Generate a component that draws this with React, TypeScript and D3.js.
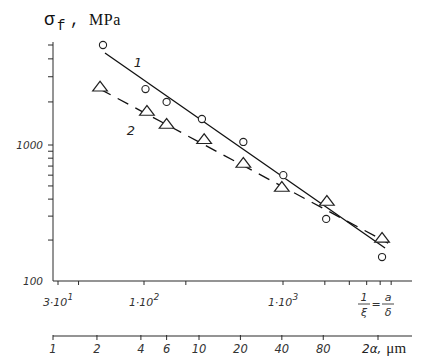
import React, { useEffect, useRef } from 'react';
import * as d3 from 'd3';

// series 1: circles, solid fit line
const size1 = [2.2, 4.3, 6.0, 10.5, 21, 41, 84, 214];
const sigma1 = [5000, 2460, 2000, 1520, 1050, 600, 286, 150];
// series 2: triangles, dashed fit line
const size2 = [2.1, 4.4, 6.0, 10.9, 21, 40, 85, 214];
const sigma2 = [2510, 1700, 1380, 1080, 725, 483, 381, 204];
// fitted line ends [2a, sigma]
const fit1: [number, number][] = [[2.27, 4400], [225, 175]];
const fit2: [number, number][] = [[2.1, 2460], [237, 190]];

const yTicks = [200, 300, 400, 500, 600, 700, 800, 900, 1000, 2000, 3000, 4000, 5000];
const yLabels = ['100', '1000'];
const xiTicks = [30, 40, 100, 200, 1000, 2000, 3000, 4000, 5000, 6000];
const xiLabels: [number, string, string][] = [[30, '3·10', '1'], [100, '1·10', '2'], [1000, '1·10', '3']];
const sizeTicks = [1, 2, 4, 6, 10, 20, 40, 80, 200];
const sizeLabels = [1, 2, 4, 6, 10, 20, 40, 80];

const W = 426, H = 359;

const App = () => {
    const svgRef = useRef<SVGSVGElement>(null);

    useEffect(() => {
        const svg = d3.select(svgRef.current);
        svg.selectAll('*').remove();

        // scan axes are slightly uneven, so piecewise log scales
        const x = d3.scaleLog().domain([1, 10, 200]).range([53, 199, 378]);
        const xi = d3.scaleLog().domain([30, 100, 1000]).range([58, 144, 283]);
        const y = d3.scaleLog().domain([100, 1000, 5000]).range([281, 145, 45]);

        const ink = '#2a2a2a';
        const numFont = '"DejaVu Sans", sans-serif';

        // y axis
        svg.append('line').attr('x1', 53).attr('x2', 53).attr('y1', 42).attr('y2', y(100))
            .attr('stroke', ink).attr('stroke-width', 1);
        svg.append('g').selectAll('line').data(yTicks).enter().append('line')
            .attr('x1', 48).attr('x2', 53).attr('y1', d => y(d)).attr('y2', d => y(d))
            .attr('stroke', ink).attr('stroke-width', 1);
        svg.append('g').selectAll('text').data(yLabels).enter().append('text')
            .attr('x', 43).attr('y', d => y(+d) + 4)
            .attr('text-anchor', 'end')
            .style('font-family', numFont).style('font-style', 'italic').style('font-size', '10.5px')
            .style('fill', '#333')
            .text(d => d);

        // 1/xi axis
        const yXi = y(100);
        svg.append('line').attr('x1', 53).attr('x2', 412).attr('y1', yXi).attr('y2', yXi)
            .attr('stroke', ink).attr('stroke-width', 1.2);
        svg.append('g').selectAll('line').data(xiTicks).enter().append('line')
            .attr('x1', d => xi(d)).attr('x2', d => xi(d)).attr('y1', yXi).attr('y2', yXi + 4)
            .attr('stroke', ink).attr('stroke-width', 1);
        const xl = svg.append('g').selectAll('text').data(xiLabels).enter().append('text')
            .attr('x', d => xi(d[0])).attr('y', 306)
            .attr('text-anchor', 'middle')
            .style('font-family', numFont).style('font-style', 'italic').style('font-size', '11px')
            .style('fill', '#333');
        xl.append('tspan').text(d => d[1]);
        xl.append('tspan').attr('dy', -6).style('font-size', '9px').text(d => d[2]);

        // 1/xi = a/delta
        const frac = svg.append('g').style('font-family', numFont).style('font-style', 'italic')
            .style('font-size', '11px').style('fill', '#333');
        frac.append('text').attr('x', 364).attr('y', 301).attr('text-anchor', 'middle').text('1');
        frac.append('line').attr('x1', 358).attr('x2', 370).attr('y1', 304).attr('y2', 304)
            .attr('stroke', '#333').attr('stroke-width', 0.9);
        frac.append('text').attr('x', 364).attr('y', 316).attr('text-anchor', 'middle').text('ξ');
        frac.append('text').attr('x', 376).attr('y', 308).attr('text-anchor', 'middle').style('font-style', 'normal').text('=');
        frac.append('text').attr('x', 388).attr('y', 301).attr('text-anchor', 'middle').text('a');
        frac.append('line').attr('x1', 382).attr('x2', 394).attr('y1', 304).attr('y2', 304)
            .attr('stroke', '#333').attr('stroke-width', 0.9);
        frac.append('text').attr('x', 388).attr('y', 316).attr('text-anchor', 'middle').text('δ');

        // 2a axis
        const y2 = 336;
        svg.append('line').attr('x1', 53).attr('x2', 412).attr('y1', y2).attr('y2', y2)
            .attr('stroke', ink).attr('stroke-width', 1.2);
        svg.append('g').selectAll('line').data(sizeTicks).enter().append('line')
            .attr('x1', d => x(d)).attr('x2', d => x(d)).attr('y1', y2 - 1).attr('y2', y2 + 4)
            .attr('stroke', ink).attr('stroke-width', 1);
        svg.append('g').selectAll('text').data(sizeLabels).enter().append('text')
            .attr('x', d => x(d)).attr('y', 353)
            .attr('text-anchor', 'middle')
            .style('font-family', numFont).style('font-style', 'italic').style('font-size', '11.5px')
            .style('fill', '#333')
            .text(d => d);
        const unit = svg.append('text').attr('x', 362).attr('y', 353).style('fill', '#222');
        unit.append('tspan').style('font-family', numFont).style('font-style', 'italic')
            .style('font-size', '12px').text('2α,');
        unit.append('tspan').attr('dx', 5).style('font-family', '"Liberation Serif", serif')
            .style('font-size', '15px').text('μm');

        // title
        const tf = '"Liberation Mono", monospace';
        svg.append('text').attr('x', 44).attr('y', 25).style('font-family', tf)
            .style('font-size', '18px').style('fill', '#111').text('σ');
        svg.append('text').attr('x', 57).attr('y', 30).style('font-family', tf)
            .style('font-size', '14px').style('fill', '#111').text('f');
        svg.append('text').attr('x', 70).attr('y', 25).style('font-family', tf)
            .style('font-size', '16px').style('fill', '#111').text(',');
        svg.append('text').attr('x', 89).attr('y', 25).style('font-family', '"Liberation Serif", serif')
            .style('font-size', '16px').style('letter-spacing', '0.5px').style('fill', '#111').text('MPa');

        // fitted lines
        const line = d3.line<[number, number]>().x(d => x(d[0])).y(d => y(d[1]));
        svg.append('path').attr('d', line(fit1)).attr('fill', 'none')
            .attr('stroke', '#111').attr('stroke-width', 1.3);
        svg.append('path').attr('d', line(fit2)).attr('fill', 'none')
            .attr('stroke', '#111').attr('stroke-width', 1.3).attr('stroke-dasharray', '12,8');

        // markers
        svg.append('g').selectAll('circle').data(size1.map((s, i) => [s, sigma1[i]])).enter()
            .append('circle')
            .attr('cx', d => x(d[0])).attr('cy', d => y(d[1])).attr('r', 3.6)
            .attr('fill', '#fff').attr('stroke', '#222').attr('stroke-width', 1.1);
        const tri = d3.symbol().type(d3.symbolTriangle).size(60);
        svg.append('g').selectAll('path').data(size2.map((s, i) => [s, sigma2[i]])).enter()
            .append('path')
            .attr('d', tri)
            .attr('transform', d => `translate(${x(d[0])},${y(d[1])}) scale(1.25,0.95)`)
            .attr('fill', '#fff').attr('stroke', '#222').attr('stroke-width', 1.1);

        // curve numbers
        const lab = svg.append('g').style('font-family', numFont).style('font-style', 'italic')
            .style('font-size', '13px').style('fill', '#222');
        lab.append('text').attr('x', 138).attr('y', 67).attr('text-anchor', 'middle').text('1');
        lab.append('text').attr('x', 131).attr('y', 135).attr('text-anchor', 'middle').text('2');
    }, []);

    return (
        <svg ref={svgRef} width={W} height={H}
            style={{ position: 'absolute', left: 0, top: 0, background: '#fff' }} />
    );
};

export default App;
